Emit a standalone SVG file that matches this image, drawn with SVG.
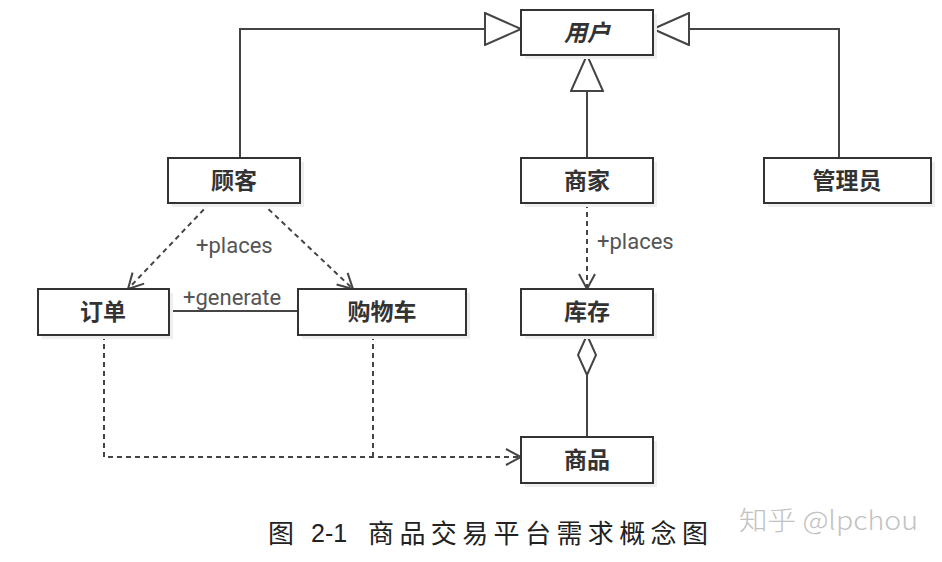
<svg xmlns="http://www.w3.org/2000/svg" width="942" height="562" viewBox="0 0 942 562">
<defs>
<style>
.box{fill:#fff;stroke:#333;stroke-width:2}
.shadow{fill:#eeeeee}
.lbl{font-family:"Noto Sans CJK SC","Noto Sans",sans-serif;font-size:23px;font-weight:bold;fill:#333;text-anchor:middle}
.edge{fill:none;stroke:#444;stroke-width:2}
.dash{stroke-dasharray:5 4}
.elbl{font-family:Roboto,"Liberation Sans",sans-serif;font-size:22px;fill:#555}
</style>
<marker id="tri" viewBox="0 0 38 34" refX="37" refY="17" markerWidth="38" markerHeight="34" markerUnits="userSpaceOnUse" orient="auto">
<path d="M1,1 L37,17 L1,33 Z" fill="#fff" stroke="#444" stroke-width="2"/>
</marker>
<marker id="open" viewBox="0 0 18 18" refX="16" refY="9" markerWidth="18" markerHeight="18" markerUnits="userSpaceOnUse" orient="auto">
<path d="M1,1 L16,9 L1,17" fill="none" stroke="#444" stroke-width="2"/>
</marker>
</defs>
<rect width="942" height="562" fill="#fff"/>

<g id="connectors">
<path class="edge" d="M240,158 V29 H521" marker-end="url(#tri)"/>
<path class="edge" d="M839,158 V29 H653" marker-end="url(#tri)"/>
<path class="edge" d="M587,158 V55" marker-end="url(#tri)"/>
<path class="edge dash" d="M210,203 L128,289" marker-end="url(#open)"/>
<path class="edge dash" d="M262,203 L353,289" marker-end="url(#open)"/>
<path class="edge" d="M169,311 H298"/>
<path class="edge dash" d="M587,203 V289" marker-end="url(#open)"/>
<path class="edge dash" d="M104,335 V457 H521" marker-end="url(#open)"/>
<path class="edge dash" d="M373,335 V457"/>
<path class="edge" d="M587,375 V437"/>
<polygon points="587,335 596,355 587,375 578,355" fill="#fff" stroke="#444" stroke-width="2"/>
<text class="elbl" x="196" y="253">+places</text>
<text class="elbl" x="183" y="305">+generate</text>
<text class="elbl" x="597" y="249">+places</text>
</g>

<g id="user">
<rect class="shadow" x="525" y="14" width="132" height="45"/>
<rect class="box" x="521" y="10" width="132" height="45"/>
<text class="lbl" x="587" y="41" font-style="italic">用户</text>
</g>
<g id="customer">
<rect class="shadow" x="172" y="162" width="132" height="45"/>
<rect class="box" x="168" y="158" width="132" height="45"/>
<text class="lbl" x="234" y="189">顾客</text>
</g>
<g id="merchant">
<rect class="shadow" x="525" y="162" width="132" height="45"/>
<rect class="box" x="521" y="158" width="132" height="45"/>
<text class="lbl" x="587" y="189">商家</text>
</g>
<g id="admin">
<rect class="shadow" x="768" y="162" width="167" height="45"/>
<rect class="box" x="764" y="158" width="167" height="45"/>
<text class="lbl" x="847" y="189">管理员</text>
</g>
<g id="order">
<rect class="shadow" x="42" y="293" width="131" height="46"/>
<rect class="box" x="38" y="289" width="131" height="46"/>
<text class="lbl" x="103" y="320">订单</text>
</g>
<g id="cart">
<rect class="shadow" x="302" y="293" width="168" height="46"/>
<rect class="box" x="298" y="289" width="168" height="46"/>
<text class="lbl" x="382" y="320">购物车</text>
</g>
<g id="inventory">
<rect class="shadow" x="525" y="293" width="132" height="46"/>
<rect class="box" x="521" y="289" width="132" height="46"/>
<text class="lbl" x="587" y="320">库存</text>
</g>
<g id="product">
<rect class="shadow" x="525" y="441" width="132" height="46"/>
<rect class="box" x="521" y="437" width="132" height="46"/>
<text class="lbl" x="587" y="468">商品</text>
</g>

<g id="caption" font-family="'Noto Sans CJK SC','Noto Sans',sans-serif" font-size="26" fill="#222">
<text x="268" y="543">图</text>
<text x="311" y="542" font-family="'Liberation Sans',sans-serif" font-size="25">2-1</text>
<text x="368" y="543" textLength="340" lengthAdjust="spacing">商品交易平台需求概念图</text>
</g>
<g id="watermark">
<text x="739" y="530" font-family="'Noto Sans CJK SC','Noto Sans',sans-serif" font-size="26" font-weight="300" fill="#c2c2c2" textLength="179" lengthAdjust="spacingAndGlyphs">知乎 @lpchou</text>
</g>
</svg>
